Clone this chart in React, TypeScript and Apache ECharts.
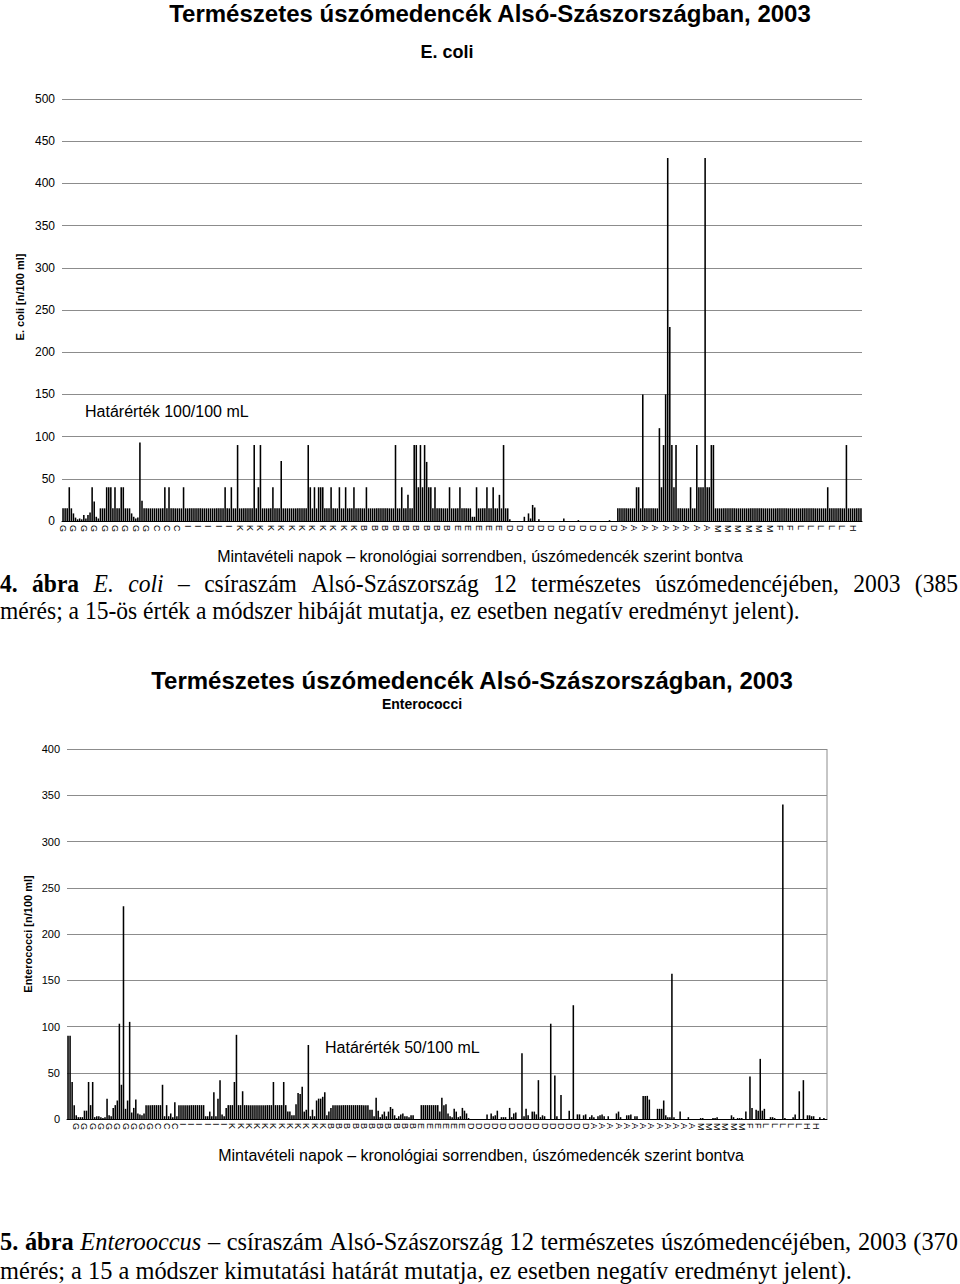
import React, { useEffect, useRef } from "react";
import * as echarts from "echarts";

const POOLS = ["G", "C", "I", "K", "B", "E", "D", "A", "M", "F", "L", "H"];

// ---- E. coli (chart 1), values per pool, chronological ----
const ecoliG = [15,15,15,40,15,9,4,2,3,2,7,3,7,10,40,23,5,3,15,15,15,40,40,40,15,40,15,15,40,40,15,15,15,9,5,3,4,93,24,15,15,15,15,15,15];
const ecoliC = [15,15,15,15,40,15,40,15,15,15,15,15,15,40,15];
const ecoliI = [15,15,15,15,15,15,15,15,15,15,15,15,15,15,15,15,15,15,40,15,15,40,15,15,90];
const ecoliK = [15,15,15,15,15,15,15,90,15,40, 90,15,15,15,15,15,40,15,15,15, 71,15,15,15,15,15,15,15,15,15, 15,15,15,90,40,15,40,15,40,40, 40,15,15,15,40,15,15,15,40,15, 15,40,15,15,15,40,15,15,15,15];
const ecoliB = [15,40,15,15,15,15,15,15,15,15, 15,15,15,15,15,90,15,15,40,15, 15,31,15,15,90,90,40,90,40,90, 70,40,40,15,40,15,15,15,15,15, 15,40,15,15,15];
const ecoliE = [15,40,15,15,15,15,15,5,5,40, 15,15,15,15,40,15,15,40,15,15, 31,15,90,15,15];
const ecoliD = [2,0,0,0,0,0,0,5,0,9, 3,19,16,0,2,0,0,0,0,0, 0,0,0,0,0,0,3,0,0,0, 0,0,0,1,0,0,0,0,0,0, 0,0,0,0,0,0,0,0,1,0, 0,0];
const ecoliA = [15,15,15,15,15,15,15,15,15,40, 40,15,150,15,15,15,15,15,15,15, 110,40,90,150,430,230,90,40,90,15, 15,15,15,15,15,40,15,15,90,40, 40,40,430,40,40,90,90,15];
const ecoliM = [15,15,15,15,15,15,15,15,15,15, 15,15,15,15,15,15,15,15,15,15, 15,15,15,15,15,15,15,15,15,15];
const ecoliF = [15,15,15,15,15,15,15,15,15,15];
const ecoliL = [15,15,15,15,15,15,15,15,15,15, 15,15,15,40,15,15,15,15,15,15, 15,15,90,15,15];
const ecoliH = [15,15,15,15,15];

// ---- Enterococci (chart 2) ----
const enteroG = [90,90,40,15,4,2,2,2,9,9, 40,15,40,2,3,3,2,1,2,22, 4,3,12,15,20,103,37,230,11,20, 105,7,12,21,6,5,4,6,15,15, 15,15,15,15];
const enteroC = [15,15,37,3,15,3,6,2,18,3,15,15];
const enteroI = [15,15,15,15,15,15,15,15,15,15, 15,3,3,8,3,29,3,22,42,5, 3,12,15,15];
const enteroK = [15,40,91,15,15,30,15,15,15,15, 15,15,15,15,15,15,15,15,15,15, 40,15,15,15,15,40,15,8,8,4, 4,16,28,27,35,8,10,80,3,10, 3,20,22,22,24,29,4,8];
const enteroB = [12,15,15,15,15,15,15,15,15,15, 15,15,15,15,15,15,15,15,15,10, 10,3,23,9,2,5,8,3,8,13, 11,4,1,3,5,6,3,3,2,4, 4,0,0,0];
const enteroE = [15,15,15,15,15,15,15,15,15,8, 23,15,16,6,3,2,11,8,2,3, 12,9,6,1];
const enteroD = [0,0,0,0,0,0,0,0,5,0, 6,3,4,9,0,2,2,2,0,12, 2,6,7,0,0,71,3,11,4,0, 8,8,5,42,2,4,3,0,0,103, 0,47,3,0,26,0,0,0,9,0, 123,0,5,5,0,4,5,0,2,4];
const enteroA = [2,0,3,4,5,3,0,3,0,0, 0,6,8,2,0,0,4,4,5,0, 3,3,0,0,25,25,25,21,0,0, 0,11,11,11,20,4,2,2,157,2, 0,0,8,0,0,0,2,0,0,0, 0,0];
const enteroM = [1,1,0,0,0,0,1,1,2,0, 0,0,0,0,0,4,2,0,1,1, 1,0,8,0];
const enteroF = [46,12,0,10,9,65,9,11];
const enteroL = [0,0,2,2,1,0,0,0,340,1, 0,0,0,2,5,0,30,0,42,0];
const enteroH = [4,4,3,3,0,0,2,0,1,0];

const ecoliPools = [ecoliG, ecoliC, ecoliI, ecoliK, ecoliB, ecoliE, ecoliD, ecoliA, ecoliM, ecoliF, ecoliL, ecoliH];
const enteroPools = [enteroG, enteroC, enteroI, enteroK, enteroB, enteroE, enteroD, enteroA, enteroM, enteroF, enteroL, enteroH];

const TITLE = "Természetes úszómedencék Alsó-Szászországban, 2003";
const XNAME = "Mintavételi napok – kronológiai sorrendben, úszómedencék szerint bontva";

const SANS = '"Liberation Sans", Arial, sans-serif';
const SERIF = '"Liberation Serif", "Times New Roman", serif';

function buildCats(pools: number[][]) {
  const out: string[] = [];
  pools.forEach((arr, p) => arr.forEach((_, j) => out.push(POOLS[p] + "|" + j)));
  return out;
}

type Word = { t: string; b?: boolean; i?: boolean };

export default function App() {
  const ref = useRef<HTMLDivElement>(null);
  useEffect(() => {
    const chart = echarts.init(ref.current!, null, { renderer: "svg" });
    const ctx = document.createElement("canvas").getContext("2d")!;
    const CAP = 25;
    const measure = (t: string, b?: boolean, i?: boolean) => {
      ctx.font = `${i ? "italic" : "normal"} ${b ? "bold" : "normal"} ${CAP}px ${SERIF}`;
      return ctx.measureText(t).width;
    };
    const txt = (text: string, x: number, y: number, size: number, opts: any = {}) => ({
      type: "text",
      x,
      y,
      rotation: opts.rotation || 0,
      scaleX: opts.scaleX || 1,
      style: {
        text,
        fontSize: size,
        fontFamily: opts.family || SANS,
        fontWeight: opts.bold ? "bold" : "normal",
        fontStyle: opts.italic ? "italic" : "normal",
        fill: "#000",
        align: opts.align || "center",
        verticalAlign: "middle",
      },
    });
    const plainLine = (text: string, y: number, target: number) => {
      const sx = target / measure(text);
      return { el: txt(text, 0, y, CAP, { family: SERIF, align: "left", scaleX: sx }), sx };
    };
    const justified = (words: Word[], y: number, sx: number, x0: number, x1: number) => {
      const widths = words.map((w) => measure(w.t, w.b, w.i) * sx);
      const total = widths.reduce((a, b) => a + b, 0);
      const gap = (x1 - x0 - total) / (words.length - 1);
      let x = x0;
      return words.map((w, k) => {
        const el = txt(w.t, x, y, CAP, { family: SERIF, align: "left", scaleX: sx, bold: w.b, italic: w.i });
        x += widths[k] + gap;
        return el;
      });
    };

    const cap1b = plainLine("mérés; a 15-ös érték a módszer hibáját mutatja, ez esetben negatív eredményt jelent).", 610, 800);
    const cap1a = justified(
      [
        { t: "4.", b: true }, { t: "ábra", b: true }, { t: "E.", i: true }, { t: "coli", i: true }, { t: "–" },
        { t: "csíraszám" }, { t: "Alsó-Szászország" }, { t: "12" }, { t: "természetes" },
        { t: "úszómedencéjében," }, { t: "2003" }, { t: "(385" },
      ],
      583, cap1b.sx, 0, 958
    );
    const cap2b = plainLine("mérés; a 15 a módszer kimutatási határát mutatja, ez esetben negatív eredményt jelent).", 1270, 852);
    const cap2a = justified(
      [
        { t: "5.", b: true }, { t: "ábra", b: true }, { t: "Enterooccus", i: true }, { t: "–" },
        { t: "csíraszám" }, { t: "Alsó-Szászország" }, { t: "12" }, { t: "természetes" },
        { t: "úszómedencéjében," }, { t: "2003" }, { t: "(370" },
      ],
      1241, cap2b.sx, 0, 958
    );

    const catAxis = (grid: number, data: string[], interval: number) => ({
      type: "category",
      gridIndex: grid,
      data,
      axisLine: { show: true, lineStyle: { color: "#000", width: 1 } },
      axisTick: { show: false },
      axisLabel: {
        interval,
        rotate: -90,
        fontSize: 9,
        fontFamily: SANS,
        color: "#000",
        margin: 4,
        formatter: (v: string) => v.split("|")[0],
      },
    });
    const valAxis = (grid: number, max: number, size: number) => ({
      type: "value",
      gridIndex: grid,
      min: 0,
      max,
      interval: 50,
      axisLine: { show: false },
      axisTick: { show: false },
      splitLine: { show: true, lineStyle: { color: "#8c8c8c", width: 1 } },
      axisLabel: { fontSize: size, fontFamily: SANS, color: "#000", margin: 7 },
    });

    chart.setOption({
      animation: false,
      grid: [
        { left: 62, width: 800, top: 99, height: 422 },
        { left: 67, width: 760, top: 749, height: 370 },
      ],
      xAxis: [catAxis(0, buildCats(ecoliPools), 4), catAxis(1, buildCats(enteroPools), 3)],
      yAxis: [valAxis(0, 500, 12), valAxis(1, 400, 11)],
      series: [
        {
          type: "bar",
          xAxisIndex: 0,
          yAxisIndex: 0,
          data: ecoliPools.flat(),
          itemStyle: { color: "#000" },
          barCategoryGap: "25%",
        },
        {
          type: "bar",
          xAxisIndex: 1,
          yAxisIndex: 1,
          data: enteroPools.flat(),
          itemStyle: { color: "#000" },
          barCategoryGap: "25%",
        },
      ],
      graphic: [
        txt(TITLE, 490, 13, 24, { bold: true }),
        txt("E. coli", 447, 52, 18, { bold: true }),
        txt("E. coli [n/100 ml]", 20, 297, 11, { bold: true, rotation: Math.PI / 2 }),
        txt("Határérték 100/100 mL", 85, 411, 16, { align: "left" }),
        txt(XNAME, 480, 556, 16),
        txt(TITLE, 472, 680, 24, { bold: true }),
        txt("Enterococci", 422, 704, 14, { bold: true }),
        txt("Enterococci [n/100 ml]", 28, 934, 11, { bold: true, rotation: Math.PI / 2 }),
        txt("Határérték 50/100 mL", 325, 1047, 16, { align: "left" }),
        txt(XNAME, 481, 1155, 16),
        {
          type: "line",
          shape: { x1: 827, y1: 749, x2: 827, y2: 1119 },
          style: { stroke: "#8c8c8c", lineWidth: 1 },
        },
        ...cap1a,
        cap1b.el,
        ...cap2a,
        cap2b.el,
      ],
    });
    return () => chart.dispose();
  }, []);
  return (
    <div
      ref={ref}
      style={{ position: "absolute", left: 0, top: 0, width: 960, height: 1284, background: "#fff" }}
    />
  );
}
